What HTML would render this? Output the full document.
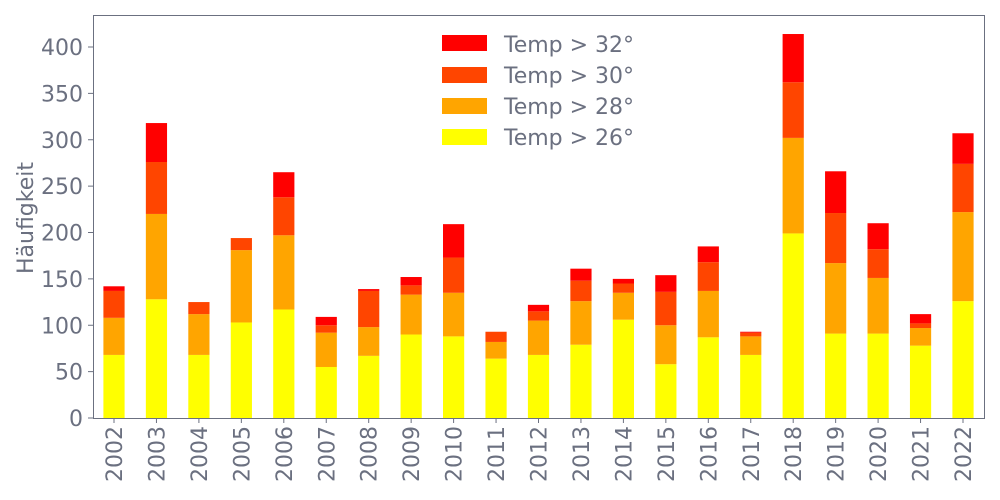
<!DOCTYPE html>
<html><head><meta charset="utf-8"><style>body{margin:0;background:#fff}svg{display:block}text{font-family:"DejaVu Sans","Liberation Sans",sans-serif;fill:#6b7080}</style></head>
<body>
<svg width="1000" height="500" xmlns="http://www.w3.org/2000/svg" id="s">
<rect x="93.5" y="15.5" width="891" height="403" fill="none" stroke="#6b7080" stroke-width="1"/>
<g id="bars"></g>
<g id="yt" font-size="22" text-anchor="end"></g>
<g id="xt" font-size="22"></g>
<text transform="translate(33,218) rotate(-90)" font-size="22" text-anchor="middle">Häufigkeit</text>
<g font-size="22">
<rect x="442" y="35" width="45" height="16" fill="#ff0000"/><text x="504" y="52">Temp &gt; 32°</text>
<rect x="442" y="67" width="45" height="16" fill="#ff4500"/><text x="504" y="83">Temp &gt; 30°</text>
<rect x="442" y="98" width="45" height="16" fill="#ffa500"/><text x="504" y="114">Temp &gt; 28°</text>
<rect x="442" y="129" width="45" height="16" fill="#ffff00"/><text x="504" y="145">Temp &gt; 26°</text>
</g>
</svg>
<script>
var d=[[68,108,137,142],[128,220,276,318],[68,112,125,125],[103,181,194,194],[117,197,238,265],[55,92,100,109],[67,98,137,139],[90,133,143,152],[88,135,173,209],[64,82,93,93],[68,105,115,122],[79,126,148,161],[106,135,145,150],[58,100,136,154],[87,137,168,185],[68,88,92,93],[199,302,362,414],[91,167,221,266],[91,151,182,210],[78,97,102,112],[126,222,274,307]];
var c=["#ffff00","#ffa500","#ff4500","#ff0000"],ns="http://www.w3.org/2000/svg";
function Y(v){return 418-v*0.9275}
var b=document.getElementById("bars"),xt=document.getElementById("xt"),yt=document.getElementById("yt"),s=document.getElementById("s");
d.forEach(function(r,i){var cx=114+i*42.45,p=0;r.forEach(function(v,k){if(v>p){var e=document.createElementNS(ns,"rect");e.setAttribute("x",cx-10.6);e.setAttribute("width",21.2);e.setAttribute("y",Y(v));e.setAttribute("height",Y(p)-Y(v));e.setAttribute("fill",c[k]);b.appendChild(e);}p=v;});
var l=document.createElementNS(ns,"line");l.setAttribute("x1",cx);l.setAttribute("x2",cx);l.setAttribute("y1",418);l.setAttribute("y2",423);l.setAttribute("stroke","#6b7080");s.appendChild(l);
var t=document.createElementNS(ns,"text");t.setAttribute("transform","translate("+(cx+8)+",426) rotate(-90)");t.setAttribute("text-anchor","end");t.textContent=2002+i;xt.appendChild(t);});
for(var v=0;v<=400;v+=50){var y=Y(v);var l=document.createElementNS(ns,"line");l.setAttribute("x1",88);l.setAttribute("x2",93);l.setAttribute("y1",y);l.setAttribute("y2",y);l.setAttribute("stroke","#6b7080");s.appendChild(l);
var t=document.createElementNS(ns,"text");t.setAttribute("x",83);t.setAttribute("y",y+8);t.textContent=v;yt.appendChild(t);}
</script>
</body></html>
